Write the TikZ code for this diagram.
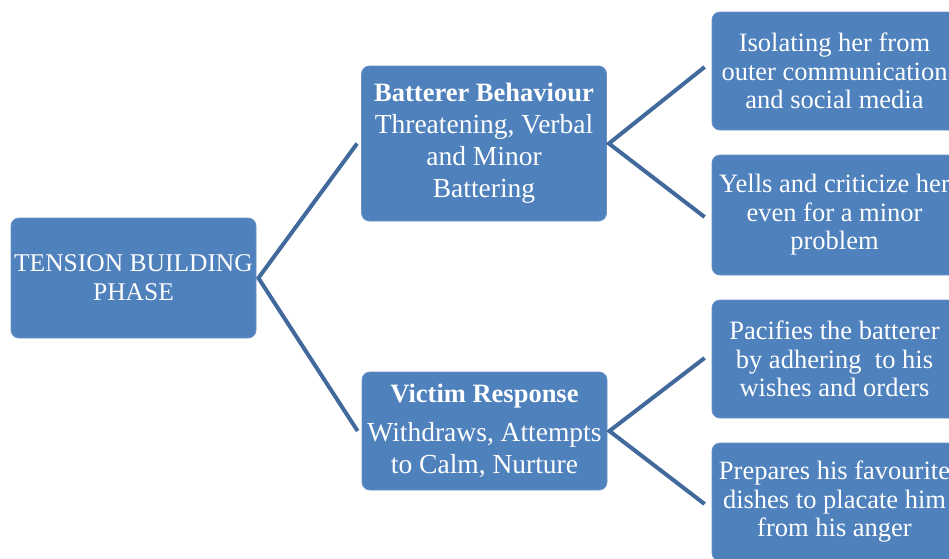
\documentclass[tikz,border=0pt]{standalone}
\usepackage{fontspec}
\setmainfont{Liberation Serif}
\definecolor{boxfill}{HTML}{4F81BD}
\definecolor{boxedge}{HTML}{6A93C6}
\definecolor{linkcol}{HTML}{41699C}
\begin{document}
\begin{tikzpicture}[x=1pt,y=-1pt,
  card/.style={draw=boxedge,line width=0.8pt,fill=boxfill,rounded corners=8pt,
    text=white,align=center,inner sep=0pt,minimum width=245pt},
  link/.style={draw=linkcol,line width=4pt},
  rootfont/.style={font=\fontsize{25.5}{29}\selectfont},
  midfont/.style={font=\fontsize{27.5}{32}\selectfont},
  leaffont/.style={font=\fontsize{26.5}{28.5}\selectfont}]
\useasboundingbox (0,0) rectangle (949,558);
\begin{scope}
\clip (0,0) rectangle (949,558);
% root
\node[card,rootfont,minimum height=120pt] (root) at (133.5,278) {TENSION BUILDING\\PHASE};
% second level
\node[card,midfont,minimum height=155pt] (batt) at (484,143.5)
  {{\fontsize{26.5}{32}\selectfont\textbf{Batterer Behaviour}}\\Threatening, Verbal\\and Minor\\Battering};
\node[card,midfont,minimum height=118pt] (vict) at (484.5,431)
  {{\fontsize{26.5}{32}\selectfont\textbf{Victim Response}}\\[7pt]Withdraws, Attempts\\to Calm, Nurture};
% leaves
\node[card,leaffont,minimum height=118pt] (l1) at (834.5,71)
  {Isolating her from\\outer communication\\and social media};
\node[card,leaffont,minimum height=120pt] (l2) at (834.5,215)
  {Yells and criticize her\\even for a minor\\problem};
\node[card,leaffont,minimum height=118pt] (l3) at (834.5,359)
  {Pacifies the batterer\\by adhering\ \ to his\\wishes and orders};
\node[card,leaffont,minimum height=118pt] (l4) at (834.5,502)
  {Prepares his favourite\\dishes to placate him\\from his anger};
\end{scope}
% connectors
\coordinate (rj) at ([xshift=2pt]root.east);
\draw[link] ([xshift=-4pt]batt.west) -- (rj) -- ([xshift=-4pt]vict.west);
\coordinate (bj) at ([xshift=2pt]batt.east);
\draw[link] ([xshift=-7pt,yshift=4pt]l1.west) -- (bj) -- ([xshift=-7pt,yshift=-2pt]l2.west);
\coordinate (vj) at ([xshift=2pt]vict.east);
\draw[link] ([xshift=-7pt,yshift=1pt]l3.west) -- (vj) -- ([xshift=-7pt,yshift=-2pt]l4.west);
\end{tikzpicture}
\end{document}
